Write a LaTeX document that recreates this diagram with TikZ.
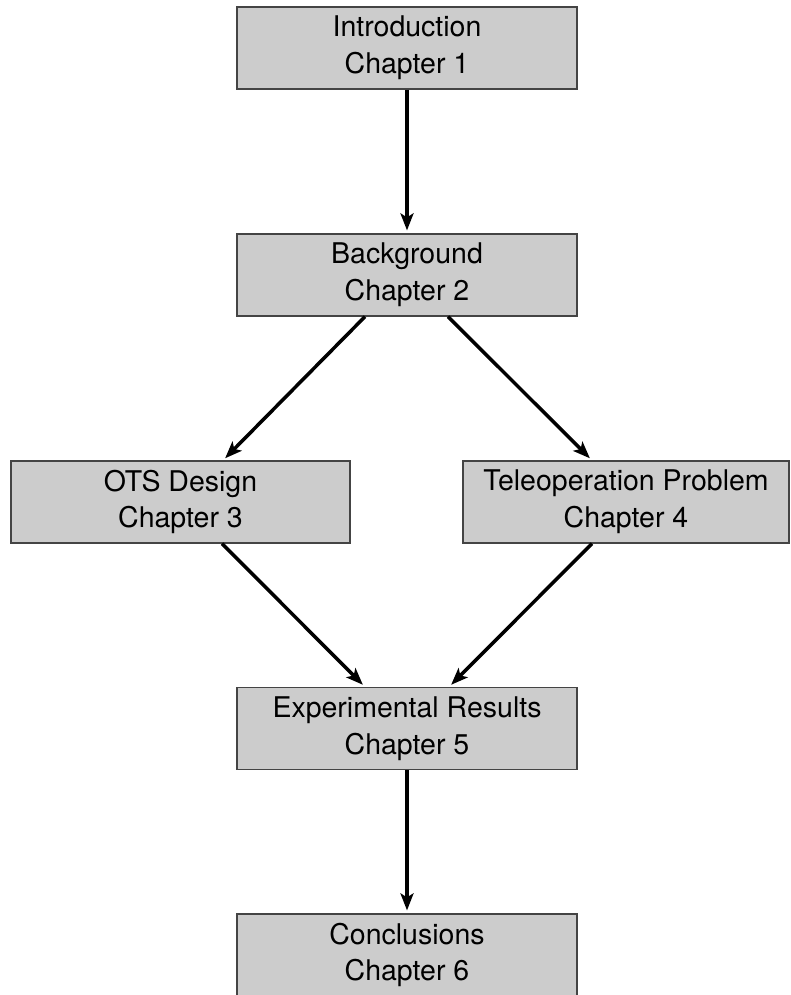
\documentclass[tikz,border=0pt]{standalone}
\usepackage{fontspec}
\setmainfont{TeX Gyre Heros}
\usetikzlibrary{arrows.meta}
\definecolor{boxfill}{HTML}{CCCCCC}
\definecolor{boxline}{HTML}{444444}
\tikzset{
  chapbox/.style={draw=boxline, line width=1.2pt, fill=boxfill, inner sep=0pt,
    minimum height=82pt, align=center,
    font=\fontsize{28.5pt}{36.7pt}\selectfont},
  flow/.style={line width=3.5pt, -{Stealth[length=17pt,width=13pt,inset=4pt]}, shorten >=3pt}
}
\begin{document}
\begin{tikzpicture}[x=1pt,y=-1pt]
\useasboundingbox (0,0) rectangle (790,995);
\begin{scope}
\clip (0,0) rectangle (790,995);
\node[chapbox, minimum width=340pt] (intro) at (407,48) {Introduction\\Chapter 1};
\node[chapbox, minimum width=340pt] (bg) at (407,275) {Background\\Chapter 2};
\node[chapbox, minimum width=339pt] (ots) at (180.5,502) {OTS Design\\Chapter 3};
\node[chapbox, minimum width=326pt] (tel) at (626,502) {Teleoperation Problem\\Chapter 4};
\node[chapbox, minimum width=340pt] (exp) at (407,728.5) {Experimental Results\\Chapter 5};
\node[chapbox, minimum width=340pt] (conc) at (407,955) {Conclusions\\Chapter 6};

\draw[flow] (intro.south) -- (bg.north);
\draw[flow] ([xshift=-42pt]bg.south) -- ([xshift=42.5pt]ots.north);
\draw[flow] ([xshift=41pt]bg.south) -- ([xshift=-34pt]tel.north);
\draw[flow] ([xshift=41.5pt]ots.south) -- ([xshift=-42pt]exp.north);
\draw[flow] ([xshift=-34pt]tel.south) -- ([xshift=42pt]exp.north);
\draw[flow] (exp.south) -- (conc.north);
\end{scope}
\end{tikzpicture}
\end{document}
